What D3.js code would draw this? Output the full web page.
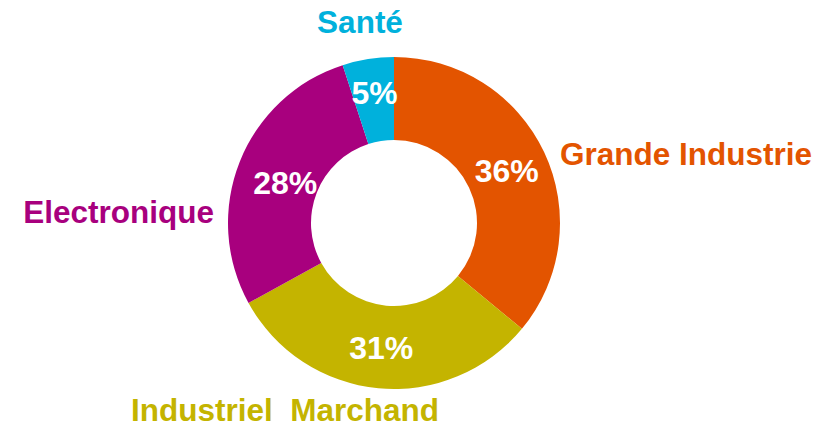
<!DOCTYPE html>
<html>
<head>
<meta charset="utf-8">
<script src="https://cdn.jsdelivr.net/npm/d3@7"></script>
<style>
  html, body { margin: 0; padding: 0; background: #fff; }
  svg { display: block; }
  text { font-family: "Liberation Sans", Arial, sans-serif; font-weight: bold; }
</style>
</head>
<body>
<svg id="chart" width="829" height="424"></svg>
<script>
// Sector shares (%), clockwise from 12 o'clock
const categories = ["Grande Industrie", "Industriel  Marchand", "Electronique", "Santé"];
const shares = [36, 31, 28, 5];
const colors = ["#E35400", "#C4B400", "#A8007E", "#00B1DC"];

// Layout
const W = 829, H = 424;
const cx = 394, cy = 223;
const outerR = 166, innerR = 83;

// Nudges applied to the in-slice percentage labels (relative to the arc centroid)
const pctNudge = [[0, 1], [-1, 1], [7, 6], [0, -7]];
// Category name baselines, relative to the donut centre
const nameAnchor = [
  { x: 166, y: -58, anchor: "start" },
  { x: -109, y: 198, anchor: "middle" },
  { x: -180, y: 0, anchor: "end" },
  { x: -34, y: -190, anchor: "middle" }
];

const svg = d3.select("#chart");
const g = svg.append("g").attr("transform", `translate(${cx},${cy})`);

const data = categories.map((c, i) => ({ name: c, value: shares[i], color: colors[i], i }));

const pie = d3.pie().value(d => d.value).sort(null);
const arc = d3.arc().innerRadius(innerR).outerRadius(outerR);
const arcs = pie(data);

g.selectAll("path.slice")
  .data(arcs)
  .join("path")
  .attr("class", "slice")
  .attr("d", arc)
  .attr("fill", d => d.data.color);

// Percentages inside the ring
g.selectAll("text.pct")
  .data(arcs)
  .join("text")
  .attr("class", "pct")
  .attr("x", d => arc.centroid(d)[0] + pctNudge[d.data.i][0])
  .attr("y", d => arc.centroid(d)[1] + pctNudge[d.data.i][1])
  .attr("text-anchor", "middle")
  .attr("dominant-baseline", "central")
  .attr("fill", "#fff")
  .style("font-size", "32px")
  .text(d => d.data.value + "%");

// Category names outside the ring
g.selectAll("text.name")
  .data(arcs)
  .join("text")
  .attr("class", "name")
  .attr("x", d => nameAnchor[d.data.i].x)
  .attr("y", d => nameAnchor[d.data.i].y)
  .attr("text-anchor", d => nameAnchor[d.data.i].anchor)
  .attr("fill", d => d.data.color)
  .style("font-size", "31.5px")
  .style("white-space", "pre")
  .attr("xml:space", "preserve")
  .text(d => d.data.name);
</script>
</body>
</html>
